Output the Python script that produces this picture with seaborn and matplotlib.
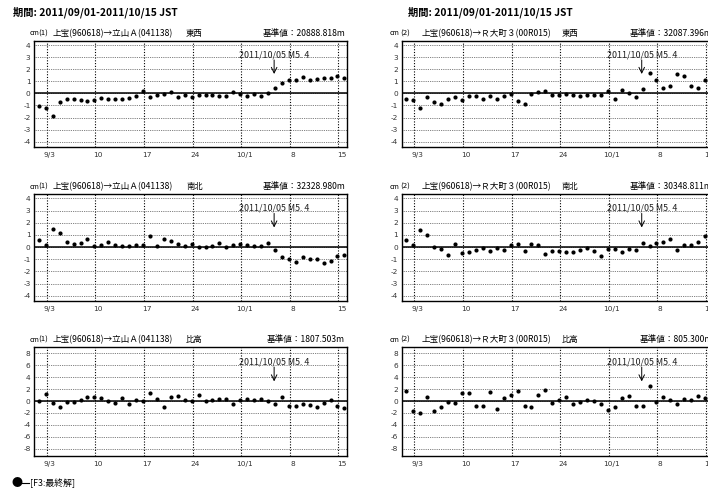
import pandas as pd
import seaborn as sns
import matplotlib.pyplot as plt
from matplotlib.transforms import ScaledTranslation, blended_transform_factory

# day 0 = 2011/09/01 00:00 JST, daily F3 solutions at 21:00 JST
days = [d + 0.875 for d in range(45)]
tick_pos = [2, 9, 16, 23, 30, 37, 44]
tick_labels = ["9/3", "10", "17", "24", "10/1", "8", "15"]

ew_1 = [-1.05, -1.2, -1.88, -0.75, -0.5, -0.45, -0.52, -0.66, -0.58, -0.38,
        -0.45, -0.45, -0.45, -0.4, -0.25, 0.22, -0.33, -0.17, -0.08, 0.1,
        -0.28, -0.17, -0.3, -0.14, -0.17, -0.17, -0.22, -0.2, 0.1, -0.03,
        -0.25, -0.08, -0.22, 0.0, 0.41, 0.88, 1.08, 1.13, 1.32, 1.1,
        1.21, 1.3, 1.27, 1.46, 1.24]
ew_2 = [-0.5, -0.58, -1.19, -0.3, -0.72, -0.91, -0.44, -0.28, -0.58, -0.25,
        -0.25, -0.44, -0.22, -0.44, -0.19, -0.06, -0.66, -0.86, -0.06, 0.11,
        0.22, -0.11, -0.17, -0.08, -0.17, -0.22, -0.11, -0.11, -0.17, 0.22,
        -0.5, 0.25, 0.06, -0.28, 0.39, 1.69, 1.11, 0.47, 0.61, 1.58,
        1.44, 0.64, 0.47, 1.11]
ns_1 = [0.61, 0.14, 1.5, 1.16, 0.42, 0.28, 0.36, 0.69, 0.11, 0.19,
        0.44, 0.14, 0.08, 0.11, 0.14, 0.19, 0.94, 0.06, 0.69, 0.5,
        0.25, 0.11, 0.25, -0.03, 0.03, 0.11, 0.3, 0.03, 0.17, 0.22,
        0.17, 0.08, 0.06, 0.33, -0.28, -0.83, -0.97, -1.19, -0.78, -1.0,
        -1.0, -1.33, -1.11, -0.72, -0.66]
ns_2 = [0.61, 0.19, 1.36, 1.0, 0.0, -0.14, -0.64, 0.22, -0.5, -0.44,
        -0.22, -0.11, -0.33, -0.11, -0.22, 0.17, 0.28, -0.36, 0.25, 0.19,
        -0.56, -0.31, -0.33, -0.44, -0.39, -0.22, -0.11, -0.36, -0.75, -0.14,
        -0.14, -0.44, -0.14, -0.22, 0.36, 0.08, 0.36, 0.39, 0.67, -0.25,
        0.17, 0.17, 0.44, 0.94]
ud_1 = [0.06, 1.17, -0.28, -1.0, -0.17, -0.17, 0.17, 0.73, 0.61, 0.5,
        -0.06, -0.34, 0.5, -0.56, 0.22, -0.06, 1.4, 0.34, -0.95, 0.67,
        0.89, 0.17, 0.06, 0.95, 0.06, 0.22, 0.39, 0.28, -0.5, 0.11,
        0.39, 0.22, 0.34, 0.06, -0.45, 0.67, -0.78, -0.84, -0.45, -0.73,
        -1.06, -0.28, 0.11, -0.9, -1.23]
ud_2 = [1.68, -1.68, -2.0, 0.67, -1.68, -1.0, -0.22, -0.28, 1.4, 1.4,
        -0.78, -0.9, 1.56, -1.28, 0.5, 1.0, 1.62, -0.9, -1.06, 0.95,
        1.84, -0.28, 0.11, 0.61, -0.5, -0.22, 0.22, 0.06, -0.56, -1.5,
        -1.0, 0.56, 0.89, -0.78, -0.89, 2.51, -0.17, 0.73, 0.22, -0.45,
        0.34, 0.11, 0.78, 0.5]

routes = ["(1)", "(2)"]
route_names = ["上宝(960618)→立山Ａ(041138)", "上宝(960618)→Ｒ大町３(00R015)"]
components = ["東西", "南北", "比高"]
base_values = [["20888.818m", "32087.396m"],
               ["32328.980m", "30348.811m"],
               ["1807.503m", "805.300m"]]
series = [[ew_1, ew_2], [ns_1, ns_2], [ud_1, ud_2]]
period = "期間: 2011/09/01-2011/10/15 JST"
quake_label = "2011/10/05 M5. 4"
quake_day = 34.75

plt.rcParams["axes.unicode_minus"] = False
jp = ["Noto Sans CJK JP", "DejaVu Sans"]

W, H = 708, 497
fig = plt.figure(figsize=(W / 100, H / 100), dpi=100)

col_left = [34, 401.6]
ax_w = 312.7
rows = [(40.7, 146.7), (194, 300.7), (347.3, 456)]
ylims = [(-4.41, 4.36), (-4.41, 4.36), (-9.2, 9.0)]
yticks = [list(range(-4, 5)), list(range(-4, 5)), list(range(-8, 9, 2))]
head_x = [[29.3, 38.6, 52.3, 186], [389.3, 400, 421.7, 561.7]]

shift = ScaledTranslation(3 / 100, 0, fig.dpi_scale_trans)

for r, (top, bot) in enumerate(rows):
    for c in range(2):
        vals = series[r][c]
        df = pd.DataFrame({"day": days[:len(vals)], "cm": vals})
        ax = fig.add_axes([col_left[c] / W, 1 - bot / H, ax_w / W, (bot - top) / H])
        sns.scatterplot(data=df, x="day", y="cm", color="black", s=9,
                        linewidth=0, legend=False, zorder=3, ax=ax)
        ax.set_xlim(0.176, 45.2)
        ax.set_ylim(*ylims[r])
        ax.set_xticks(tick_pos)
        ax.set_xticklabels(tick_labels, fontsize=5.3, color="#333")
        ax.set_yticks(yticks[r])
        ax.set_yticklabels([str(v) for v in yticks[r]], fontsize=5.3, color="#333")
        ax.tick_params(length=0)
        ax.tick_params(axis="x", pad=3.5)
        ax.tick_params(axis="y", pad=2.5)
        for lab in ax.get_xticklabels():
            lab.set_transform(lab.get_transform() + shift)
        ax.set_xlabel("")
        ax.set_ylabel("")
        ax.xaxis.grid(True, color="black", linestyle=(0, (1, 1.5)), linewidth=0.8)
        ax.yaxis.grid(True, color="#555", linestyle=(0, (1, 1.2)), linewidth=0.6)
        ax.set_axisbelow(True)
        ax.axhline(0, color="black", linewidth=1.1, zorder=2)
        for sp in ax.spines.values():
            sp.set_color("black")
            sp.set_linewidth(1.0)

        tr = blended_transform_factory(ax.transData, ax.transAxes)
        ax.annotate("", xy=(quake_day, 0.686), xycoords=tr,
                    xytext=(quake_day, 0.818), textcoords=tr,
                    arrowprops=dict(arrowstyle="->", lw=0.7, color="black",
                                    shrinkA=0, shrinkB=0))
        ax.text(quake_day, 0.822, quake_label, transform=tr, ha="center",
                va="bottom", fontfamily=jp, fontsize=6.4, color="#222")

        # header line above each panel
        hy = 1 - (top - 7.5) / H
        hx = head_x[c]
        fig.text(hx[0] / W, hy, "cm", fontfamily=jp, fontsize=5.0, va="center")
        fig.text(hx[1] / W, hy, routes[c], fontfamily=jp, fontsize=5.6, va="center")
        fig.text(hx[2] / W, hy, route_names[c], fontfamily=jp, fontsize=6.2, va="center")
        fig.text(hx[3] / W, hy, components[r], fontfamily=jp, fontsize=6, va="center")
        fig.text((col_left[c] + ax_w - 1.5) / W, hy, "基準値：" + base_values[r][c],
                 fontfamily=jp, fontsize=6.2, va="center", ha="right")

fig.text(12.7 / W, 1 - 12.3 / H, period, fontfamily=jp, fontsize=7.4,
         fontweight="bold", va="center")
fig.text(408 / W, 1 - 12.3 / H, period, fontfamily=jp, fontsize=7.4,
         fontweight="bold", va="center")

fig.text(12 / W, 1 - 483 / H, "●", fontfamily=jp, fontsize=8, va="center")
fig.add_artist(plt.Line2D([19.5 / W, 29 / W], [1 - 483 / H, 1 - 483 / H],
                          color="black", linewidth=0.8))
fig.text(30 / W, 1 - 483 / H, "[F3:最終解]", fontfamily=jp, fontsize=6.4, va="center")

fig.savefig("out.png", dpi=100)
